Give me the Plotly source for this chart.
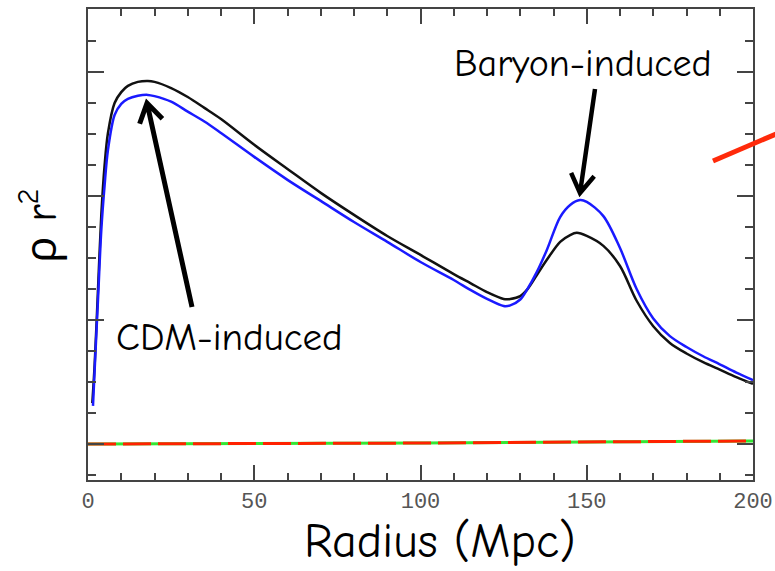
import math
import plotly.graph_objects as go

# ---------------- data ----------------
radius_black = [1.3, 2, 3, 4, 5, 6, 8, 10, 12, 15, 18, 20, 25, 30, 35, 40, 50, 60, 70, 80, 90,
                100, 110, 115, 120, 125, 127, 130, 132, 135, 138, 142, 145, 147, 150, 155,
                160, 165, 170, 175, 180, 185, 190, 195, 200]
rho_black = [1.32, 2.55, 4.97, 7.39, 9.00, 10.03, 11.0, 11.35, 11.55, 11.68, 11.71, 11.68,
             11.48, 11.19, 10.84, 10.48, 9.65, 8.87, 8.10, 7.39, 6.71, 6.10, 5.48, 5.19, 4.90,
             4.68, 4.68, 4.77, 4.97, 5.45, 5.94, 6.52, 6.74, 6.81, 6.71, 6.39, 5.74, 4.62,
             3.80, 3.26, 2.92, 2.64, 2.40, 2.16, 1.94]

radius_blue = [1.5, 2, 3, 4, 5, 6, 8, 10, 12, 15, 18, 20, 25, 30, 35, 40, 50, 60, 70, 80, 90,
               100, 110, 115, 120, 125, 127, 130, 132, 135, 138, 142, 145, 148, 150, 155,
               160, 165, 170, 175, 180, 185, 190, 195, 200]
rho_blue = [1.23, 2.39, 4.65, 6.90, 8.35, 9.48, 10.61, 10.97, 11.13, 11.23, 11.26, 11.22,
            11.04, 10.72, 10.40, 10.03, 9.26, 8.52, 7.84, 7.16, 6.52, 5.87, 5.29, 4.97, 4.68,
            4.45, 4.47, 4.66, 4.97, 5.55, 6.26, 7.32, 7.71, 7.87, 7.81, 7.35, 6.32, 5.00,
            4.05, 3.48, 3.13, 2.83, 2.57, 2.30, 2.06]

radius_flat = [0, 100, 200]
rho_flat = [0.0, 0.03, 0.1]

x_ticks = [0, 50, 100, 150, 200]
x_ticklabels = ["0", "50", "100", "150", "200"]
y_major = [0, 4, 8, 12]

# ---------------- layout geometry ----------------
W, H = 775, 571
ML, MR, MT, MB = 88, 22, 9, 91
XR = [0, 200]
YR = [-1.161, 14.03]
PW = W - ML - MR
PH = H - MT - MB


def to_px(x, y):
    return (ML + (x - XR[0]) / (XR[1] - XR[0]) * PW,
            MT + PH - (y - YR[0]) / (YR[1] - YR[0]) * PH)


def to_data(px, py):
    return (XR[0] + (px - ML) / PW * (XR[1] - XR[0]),
            YR[0] + (MT + PH - py) / PH * (YR[1] - YR[0]))


def arrow_path(tail, tip, arm=22, ang=32):
    tx, ty = to_px(*tail)
    hx, hy = to_px(*tip)
    dx, dy = tx - hx, ty - hy
    n = math.hypot(dx, dy)
    ux, uy = dx / n, dy / n
    pts = []
    for s in (1, -1):
        a = math.radians(ang * s)
        rx = ux * math.cos(a) - uy * math.sin(a)
        ry = ux * math.sin(a) + uy * math.cos(a)
        pts.append(to_data(hx + rx * arm, hy + ry * arm))
    p = f"M {tail[0]},{tail[1]} L {tip[0]},{tip[1]} "
    p += f"M {pts[0][0]},{pts[0][1]} L {tip[0]},{tip[1]} L {pts[1][0]},{pts[1][1]}"
    return p


fig = go.Figure()

fig.add_trace(go.Scatter(x=radius_flat, y=rho_flat, mode="lines",
                         line=dict(color="#33e633", width=3), hoverinfo="skip"))
fig.add_trace(go.Scatter(x=radius_flat, y=rho_flat, mode="lines",
                         line=dict(color="#ff2200", width=3, dash="28px,7px"),
                         hoverinfo="skip"))
fig.add_trace(go.Scatter(x=radius_black, y=rho_black, mode="lines",
                         line=dict(color="#111111", width=2.5, shape="spline", smoothing=0.9)))
fig.add_trace(go.Scatter(x=radius_blue, y=rho_blue, mode="lines",
                         line=dict(color="#1a1aff", width=2.5, shape="spline", smoothing=0.9)))

axis_common = dict(showline=True, linecolor="#444444", linewidth=2, mirror="ticks",
                   ticks="inside", tickcolor="#444444", tickwidth=2,
                   showgrid=False, zeroline=False, automargin=False)

fig.update_xaxes(range=XR, tickmode="array", tickvals=x_ticks, ticktext=x_ticklabels,
                 ticklen=15,
                 tickfont=dict(family="Liberation Mono, Courier New, monospace",
                               size=22, color="#555555"),
                 minor=dict(dtick=10, tick0=0, ticklen=7, ticks="inside",
                            tickcolor="#444444", tickwidth=2, showgrid=False),
                 **axis_common)
fig.update_yaxes(range=YR, tickmode="array", tickvals=y_major, showticklabels=False,
                 ticklen=16,
                 minor=dict(dtick=1, tick0=0, ticklen=8, ticks="inside",
                            tickcolor="#444444", tickwidth=2, showgrid=False),
                 **axis_common)

TEXT_FONT = "Comic Sans MS, Comic Neue, Open Sans, sans-serif"

cdm_tail, cdm_tip = to_data(192, 307), to_data(147, 103)
bar_tail, bar_tip = to_data(595, 89), to_data(580, 193)

shapes = [
    dict(type="path", xref="x", yref="y", path=arrow_path(cdm_tail, cdm_tip),
         line=dict(color="black", width=5)),
    dict(type="path", xref="x", yref="y", path=arrow_path(bar_tail, bar_tip),
         line=dict(color="black", width=4.5)),
    dict(type="line", xref="paper", yref="paper",
         x0=(713 - ML) / PW, y0=(MT + PH - 161) / PH,
         x1=(776 - ML) / PW, y1=(MT + PH - 134) / PH,
         line=dict(color="#ff2a0a", width=5)),
]

cdm_lbl = to_data(229, 337)
bar_lbl = to_data(583, 64)

annotations = [
    dict(x=cdm_lbl[0], y=cdm_lbl[1], xref="x", yref="y", text="CDM-induced",
         showarrow=False, font=dict(family=TEXT_FONT, size=39, color="black")),
    dict(x=bar_lbl[0], y=bar_lbl[1], xref="x", yref="y", text="Baryon-induced",
         showarrow=False, font=dict(family=TEXT_FONT, size=38, color="black")),
    dict(x=(440 - ML) / PW, y=(MT + PH - 541) / PH, xref="paper", yref="paper",
         text="Radius (Mpc)", showarrow=False, xanchor="center", yanchor="middle",
         font=dict(family=TEXT_FONT, size=48, color="black")),
    dict(x=(38 - ML) / PW, y=(MT + PH - 226) / PH, xref="paper", yref="paper",
         text="ρ r<sup>2</sup>", showarrow=False, textangle=-90,
         xanchor="center", yanchor="middle",
         font=dict(family=TEXT_FONT, size=44, color="black")),
]

fig.update_layout(width=W, height=H, margin=dict(l=ML, r=MR, t=MT, b=MB),
                  plot_bgcolor="white", paper_bgcolor="white", showlegend=False,
                  shapes=shapes, annotations=annotations)

fig.write_html("out.html")
